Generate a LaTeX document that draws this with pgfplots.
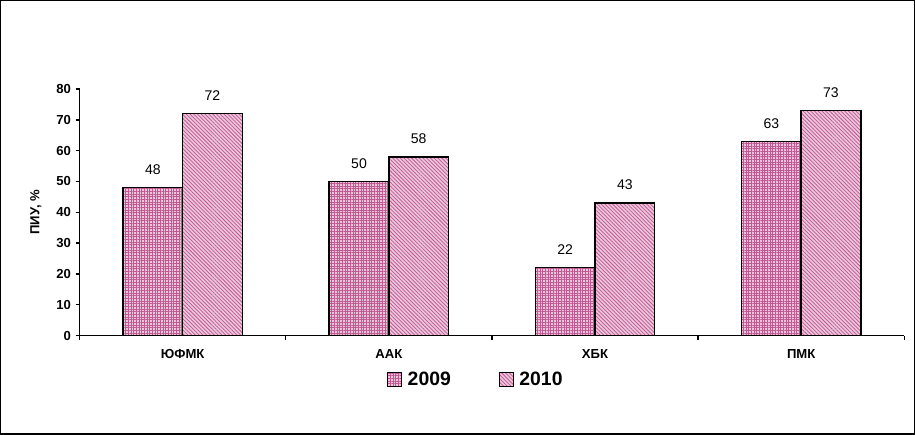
\documentclass[border=0pt]{standalone}
\usepackage{fontspec}
\setmainfont{Liberation Sans}
\usepackage{pgfplots}
\pgfplotsset{compat=1.18}
\usetikzlibrary{patterns,patterns.meta}

\definecolor{barpink}{RGB}{236,196,220}
\definecolor{barline}{RGB}{190,90,145}

\begin{document}
\begin{tikzpicture}
\begin{axis}[
    name=ax,
    scale only axis,
    width=617pt, height=184.5pt,
    ybar=0pt, bar width=44.6pt,
    xmin=-0.5, xmax=3.5,
    ymin=0, ymax=80,
    ytick={0,10,...,80},
    xtick={-0.5,0.5,1.5,2.5,3.5},
    xticklabels={},
    extra x ticks={0,1,2,3},
    extra x tick labels={ЮФМК,ААК,ХБК,ПМК},
    extra x tick style={major tick length=0pt,
        tick label style={yshift=-7pt}},
    axis x line*=bottom, axis y line*=left,
    axis line style={line width=1.1pt},
    tick align=outside,
    major tick length=3pt,
    tick style={line width=1.1pt, black},
    /pgf/number format/assume math mode=true,
    tick label style={font=\fontsize{9.8}{11}\selectfont\bfseries},
    ylabel={ПИУ, \%},
    ylabel style={at={(axis description cs:-0.053,0.5)}, anchor=center,
        font=\fontsize{9.8}{11}\selectfont\bfseries},
    nodes near coords,
    every node near coord/.append style={font=\fontsize{10.5}{12}\selectfont, yshift=6pt},
    legend columns=2,
    legend style={draw=none, at={(axis description cs:0.481,-0.179)}, anchor=center,
        font=\fontsize{14.5}{16}\selectfont\bfseries,
        /tikz/every odd column/.append style={column sep=2pt},
        /tikz/every even column/.append style={column sep=34pt}},
    legend image code/.code={\draw[#1, line width=0.8pt] (0pt,-5.2pt) rectangle (10.5pt,5.2pt);},
]
\addplot[draw=black, line width=1.1pt, fill=barpink,
    postaction={pattern={Hatch[angle=0,distance=2pt,line width=0.45pt]}, pattern color=barline}]
    coordinates {(0,48) (1,50) (2,22) (3,63)};
\addlegendentry{2009}
\addplot[draw=black, line width=1.1pt, fill=barpink,
    postaction={pattern={Lines[angle=-45,distance=2pt,line width=0.55pt]}, pattern color=barline}]
    coordinates {(0,72) (1,58) (2,43) (3,73)};
\addlegendentry{2010}
\end{axis}
\draw[line width=1.1pt] ([shift={(-59pt,-73.5pt)}]ax.south west) rectangle ([shift={(624.5pt,250.5pt)}]ax.south west);
\end{tikzpicture}
\end{document}
